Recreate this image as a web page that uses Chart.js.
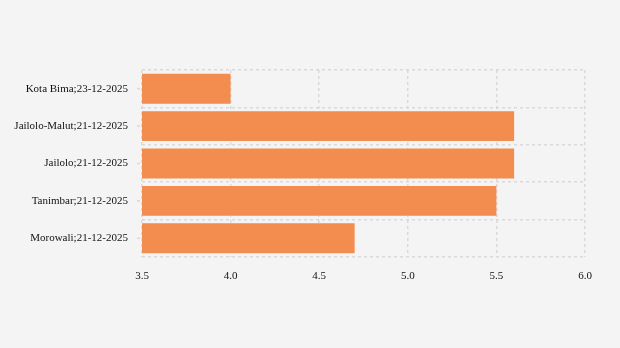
<!DOCTYPE html>
<html>
<head>
<meta charset="utf-8">
<script src="https://cdn.jsdelivr.net/npm/chart.js@4"></script>
<style>
  html, body { margin: 0; padding: 0; background: #f4f4f4; }
  #wrap { width: 620px; height: 348px; }
</style>
</head>
<body>
<div id="wrap"><canvas id="chart" width="620" height="348"></canvas></div>
<script>
const categories = [
  "Kota Bima;23-12-2025",
  "Jailolo-Malut;21-12-2025",
  "Jailolo;21-12-2025",
  "Tanimbar;21-12-2025",
  "Morowali;21-12-2025",
];
const values = [4.0, 5.6, 5.6, 5.5, 4.7];
const xMin = 3.5;
const xMax = 6.0;

const gridColor = "#d9d9d9";

// short tick marks next to the category labels
const labelTicks = {
  id: "labelTicks",
  afterDraw(chart) {
    const y = chart.scales.y;
    const c = chart.ctx;
    c.save();
    c.strokeStyle = gridColor;
    c.lineWidth = 1.5;
    y.ticks.forEach((t, i) => {
      const py = y.getPixelForTick(i);
      c.beginPath();
      c.moveTo(y.right - 5, py);
      c.lineTo(y.right - 2, py);
      c.stroke();
    });
    c.restore();
  },
};

const ctx = document.getElementById("chart").getContext("2d");
const chart = new Chart(ctx, {
  type: "bar",
  data: {
    labels: categories,
    datasets: [
      {
        data: values,
        backgroundColor: "#f28c4f",
        borderWidth: 0,
        barPercentage: 0.8,
        categoryPercentage: 1,
      },
    ],
  },
  options: {
    indexAxis: "y",
    responsive: false,
    animation: false,
    layout: { padding: { top: 70, right: 35, bottom: 67, left: 0 } },
    plugins: {
      legend: { display: false },
      tooltip: { enabled: false },
    },
    scales: {
      x: {
        min: xMin,
        max: xMax,
        ticks: {
          stepSize: 0.5,
          color: "#111",
          font: { family: "Liberation Serif", size: 11 },
          padding: 13,
          callback: (v) => v.toFixed(1),
        },
        grid: { color: gridColor, lineWidth: 1.5, drawTicks: false },
        border: { display: false, dash: [3, 3] },
        afterFit: (s) => { s.height = 24; },
      },
      y: {
        ticks: {
          color: "#111",
          font: { family: "Liberation Serif", size: 11 },
          padding: 14,
        },
        grid: { color: gridColor, lineWidth: 1.5, drawTicks: false, offset: true },
        border: { display: false, dash: [3, 3] },
        afterFit: (s) => { s.width = 142; },
      },
    },
  },
  plugins: [labelTicks],
});
</script>
</body>
</html>
